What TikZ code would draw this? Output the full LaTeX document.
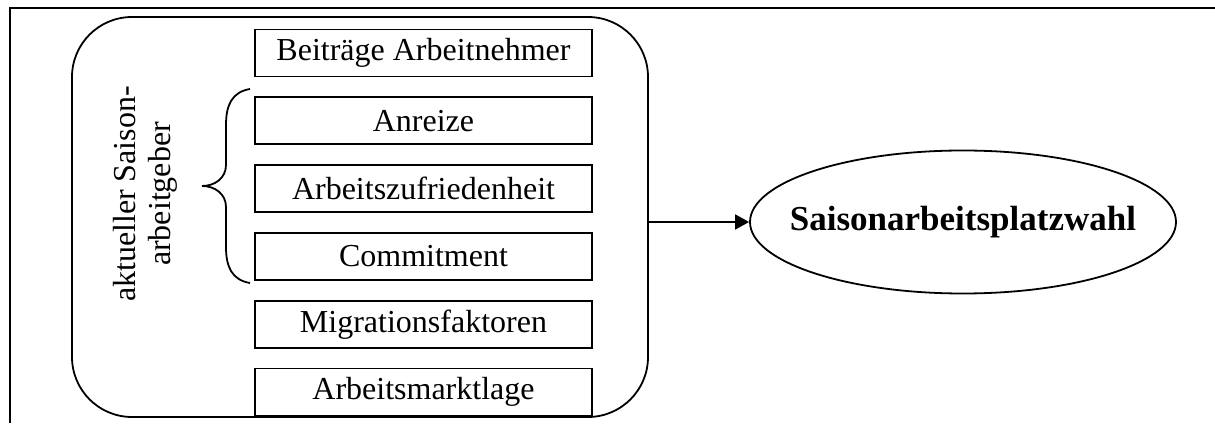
\documentclass[tikz,border=0pt]{standalone}
\usepackage{fontspec}
\setmainfont{Liberation Serif}
\usetikzlibrary{arrows.meta, positioning, shapes.geometric}

\begin{document}
\begin{tikzpicture}[
  x=0.5pt, y=0.5pt,
  line width=0.9pt,
  node distance=9.5pt,
  every node/.style={font=\fontsize{16}{17.5}\selectfont},
  faktor/.style={draw, minimum width=168.5pt, minimum height=23.5pt, inner sep=0pt},
  gruppe/.style={draw, rounded corners=30pt, minimum width=288pt, minimum height=200pt},
  ziel/.style={draw, ellipse, minimum width=213pt, minimum height=71.5pt, inner xsep=-20pt, inner ysep=0pt, font=\fontsize{17.5}{19}\selectfont\bfseries},
  arrow/.style={-{Triangle[length=7pt, width=7.5pt]}}
]
\useasboundingbox (0,0) rectangle (1215,423);
% cell border
\draw[line width=1pt] (9,415) -- (1215,415);
\draw (10,415) -- (10,0);

\node[gruppe] (gruppe) at (360,206) {};
\node[faktor] (beitraege) at (423.5,370) {Beiträge Arbeitnehmer};
\node[faktor, below=of beitraege] (anreize) {Anreize};
\node[faktor, below=of anreize] (zufriedenheit) {Arbeitszufriedenheit};
\node[faktor, below=of zufriedenheit] (commitment) {Commitment};
\node[faktor, below=of commitment] (migration) {Migrationsfaktoren};
\node[faktor, below=of migration] (markt) {Arbeitsmarktlage};

\node[rotate=90, align=center] (arbeitgeber) at (145,229) {aktueller Saison-\\arbeitgeber};
% brace
\draw (250,334) .. controls (232,331) and (226,318) .. (226,298) -- (226,258)
  .. controls (226,245) and (215,237) .. (202,237)
  .. controls (215,237) and (226,229) .. (226,216) -- (226,176)
  .. controls (226,156) and (232,143) .. (250,140);

\node[ziel] (wahl) at (963,201) {Saisonarbeitsplatzwahl};

\draw[arrow] (wahl.west -| gruppe.east) -- (wahl.west);
\end{tikzpicture}
\end{document}
